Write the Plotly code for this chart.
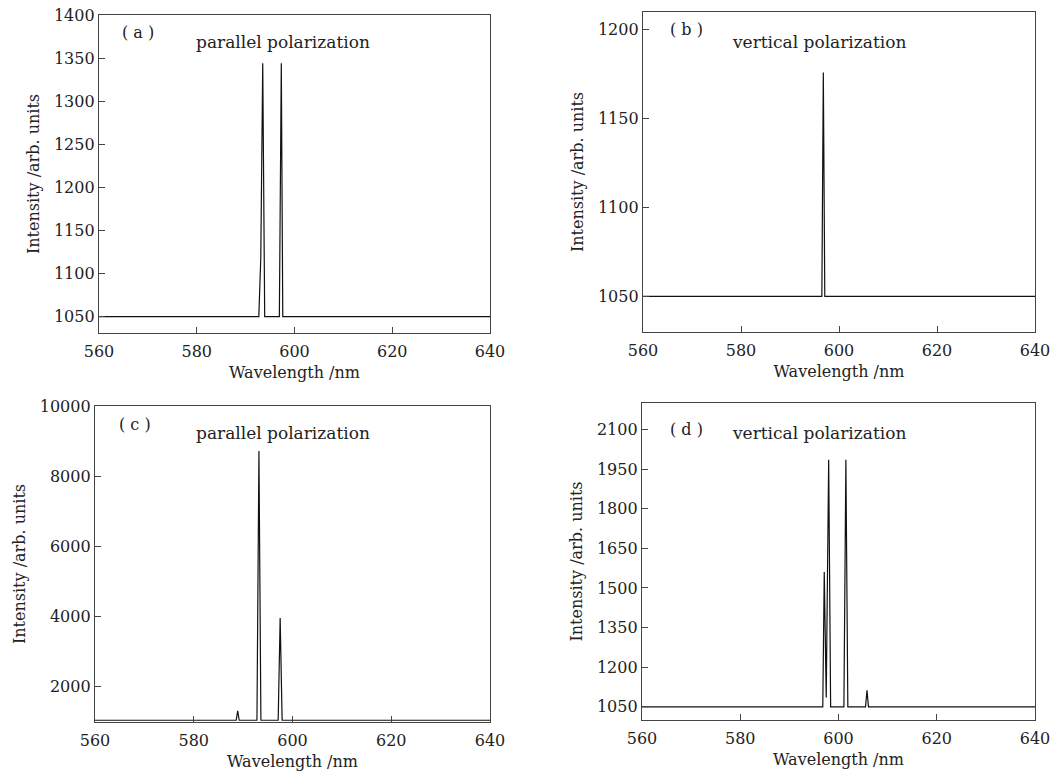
import plotly.graph_objects as go

# ---- data ----
wl_a = [560, 592.7, 593.1, 593.5, 593.9, 596.9, 597.3, 597.6, 640]
int_a = [1050, 1050, 1118, 1344, 1050, 1050, 1344, 1050, 1050]

wl_b = [560, 596.5, 596.8, 597.1, 640]
int_b = [1050, 1050, 1176, 1050, 1050]

wl_c = [560, 588.6, 588.9, 589.2, 592.8, 593.2, 593.6, 597.1, 597.5, 597.9, 640]
int_c = [1050, 1050, 1320, 1050, 1050, 8720, 1050, 1050, 3960, 1050, 1050]

wl_d = [560, 596.8, 597.1, 597.5, 598.0, 598.4, 601.1, 601.5, 601.9, 605.5, 605.8, 606.1, 640]
int_d = [1050, 1050, 1560, 1085, 1985, 1050, 1050, 1985, 1050, 1050, 1112, 1050, 1050]

x_ticks = [560, 580, 600, 620, 640]
y_ticks_a = [1050, 1100, 1150, 1200, 1250, 1300, 1350, 1400]
y_ticks_b = [1050, 1100, 1150, 1200]
y_ticks_c = [2000, 4000, 6000, 8000, 10000]
y_ticks_d = [1050, 1200, 1350, 1500, 1650, 1800, 1950, 2100]

labels = ["( a )", "( b )", "( c )", "( d )"]
titles = ["parallel polarization", "vertical polarization",
          "parallel polarization", "vertical polarization"]

W, H = 1054, 778
FONT = "DejaVu Serif"
FS = 16

panels = [
    # x, y, yticks, yrange, xdom px, ydom px (top,bottom), label pos, title pos
    (wl_a, int_a, y_ticks_a, [1031, 1400], (99, 490), (15, 333), (0.054, 0.982), (0.47, 0.953)),
    (wl_b, int_b, y_ticks_b, [1030, 1210], (643, 1035), (12, 332), (0.064, 0.98), (0.45, 0.944)),
    (wl_c, int_c, y_ticks_c, [1000, 10000], (95, 490), (406, 722), (0.056, 0.977), (0.476, 0.953)),
    (wl_d, int_d, y_ticks_d, [1000, 2200], (642, 1035), (403, 720), (0.066, 0.953), (0.45, 0.944)),
]

fig = go.Figure()
layout = dict(
    width=W, height=H, margin=dict(l=0, r=0, t=0, b=0, autoexpand=False),
    paper_bgcolor="white", plot_bgcolor="white", showlegend=False,
    font=dict(family=FONT, size=FS, color="#222"),
)
annotations = []
for i, (xs, ys, yt, yr, (x0, x1), (yt0, yb0), lp, tp) in enumerate(panels):
    n = "" if i == 0 else str(i + 1)
    fig.add_trace(go.Scatter(x=xs, y=ys, mode="lines",
                             line=dict(color="#111", width=1.2),
                             xaxis="x" + n, yaxis="y" + n, hoverinfo="skip"))
    axcommon = dict(showgrid=False, zeroline=False, showline=True,
                    linecolor="#444", linewidth=1.3, mirror=True,
                    ticks="inside", ticklen=6, tickcolor="#444",
                    automargin=False, ticklabeloverflow="allow",
                    tickfont=dict(family=FONT, size=FS, color="#222"))
    layout["xaxis" + n] = dict(
        axcommon, domain=[x0 / W, x1 / W], range=[560, 640],
        tickvals=x_ticks, ticktext=[str(v) for v in x_ticks], anchor="y" + n,
        ticklabelstandoff=4,
        title=dict(text="Wavelength /nm", standoff=6,
                   font=dict(family=FONT, size=FS, color="#222")))
    layout["yaxis" + n] = dict(
        axcommon, domain=[1 - yb0 / H, 1 - yt0 / H], range=yr,
        tickvals=yt, ticktext=[str(v) for v in yt], anchor="x" + n,
        title=dict(text="Intensity /arb. units", standoff=10,
                   font=dict(family=FONT, size=FS, color="#222")))
    annotations.append(dict(text=labels[i], xref="x" + n + " domain", yref="y" + n + " domain",
                            x=lp[0], y=lp[1], xanchor="left", yanchor="top",
                            showarrow=False, font=dict(family=FONT, size=FS, color="#222")))
    annotations.append(dict(text=titles[i], xref="x" + n + " domain", yref="y" + n + " domain",
                            x=tp[0], y=tp[1], xanchor="center", yanchor="top",
                            showarrow=False, font=dict(family=FONT, size=FS + 1, color="#222")))

layout["annotations"] = annotations
fig.update_layout(**layout)
fig.write_html("out.html", config={"displayModeBar": False},
               post_script="document.body.style.margin='0';document.body.style.overflow='hidden';")
